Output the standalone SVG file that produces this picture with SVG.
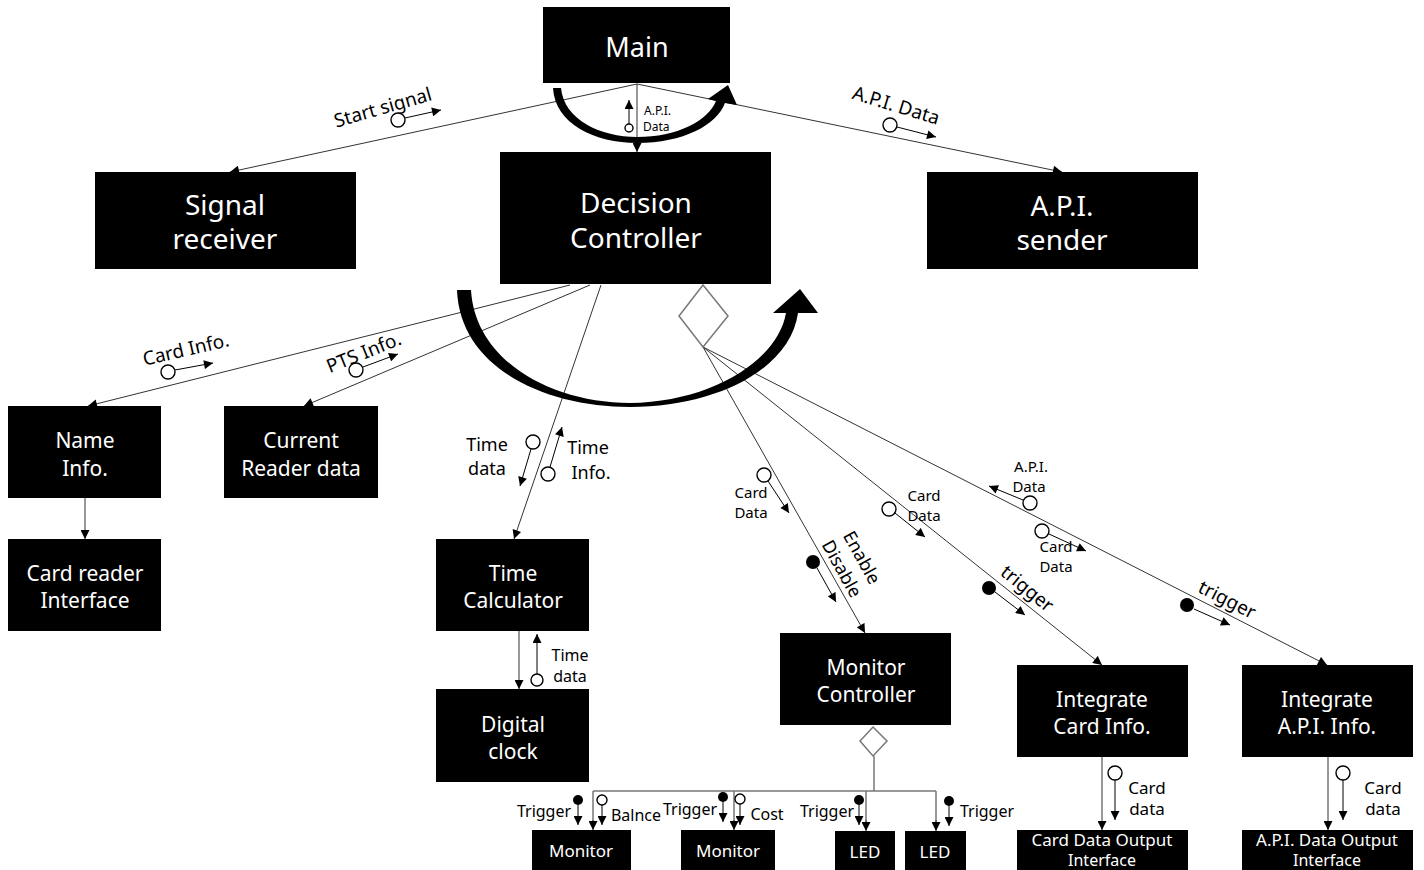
<svg xmlns="http://www.w3.org/2000/svg" width="1424" height="870" viewBox="0 0 1424 870">
<style>
.box{fill:#000}
.t{fill:#fff;font-family:"Noto Sans","Open Sans",sans-serif;text-anchor:middle}
.lb{fill:#000;font-family:"Noto Sans","Open Sans",sans-serif;text-anchor:middle}
.c{stroke:#333;stroke-width:1;fill:none}
.g{stroke:#777;stroke-width:1.5;fill:none}
.s{stroke:#000;stroke-width:1;fill:none}
.oc{fill:#fff;stroke:#000;stroke-width:1.4}
.fc{fill:#000}
</style>
<defs>
<marker id="a" viewBox="0 0 10 10" refX="10" refY="5" markerWidth="10" markerHeight="9" markerUnits="userSpaceOnUse" orient="auto"><path d="M0,0 L10,5 L0,10 z" fill="#000"/></marker>
</defs>
<rect width="1424" height="870" fill="#fff"/>

<g id="connectors">
<line class="c" x1="637" y1="84" x2="230" y2="172" marker-end="url(#a)"/>
<line class="c" x1="637" y1="84" x2="1062" y2="172" marker-end="url(#a)"/>
<line class="c" x1="637" y1="84" x2="637" y2="152" marker-end="url(#a)"/>
<line class="c" x1="570" y1="285" x2="88" y2="406" marker-end="url(#a)"/>
<line class="c" x1="590" y1="285" x2="304" y2="406" marker-end="url(#a)"/>
<line class="c" x1="601" y1="285" x2="514" y2="539" marker-end="url(#a)"/>
<line class="c" x1="703" y1="347" x2="865" y2="633" marker-end="url(#a)"/>
<line class="c" x1="703" y1="347" x2="1102" y2="665" marker-end="url(#a)"/>
<line class="c" x1="703" y1="347" x2="1327" y2="665" marker-end="url(#a)"/>
<line class="c" x1="85" y1="498" x2="85" y2="539" marker-end="url(#a)"/>
<line class="c" x1="519" y1="631" x2="519" y2="689" marker-end="url(#a)"/>
<line class="c" x1="1102" y1="757" x2="1102" y2="830" marker-end="url(#a)"/>
<line class="c" x1="1328" y1="757" x2="1328" y2="830" marker-end="url(#a)"/>
<polygon class="g" points="703,285 728,316 703,347 679,316" style="fill:#fff"/>
<polygon class="g" points="873,727 887,741 873,756 860,741" style="fill:#fff"/>
<polyline class="g" points="874,756 874,791"/>
<line class="g" x1="593" y1="791" x2="936" y2="791"/>
<line class="g" x1="593" y1="791" x2="593" y2="822"/>
<line class="g" x1="734" y1="791" x2="734" y2="822"/>
<line class="g" x1="866" y1="791" x2="866" y2="822"/>
<line class="g" x1="936" y1="791" x2="936" y2="822"/>
<line class="c" x1="593" y1="820" x2="593" y2="830" marker-end="url(#a)"/>
<line class="c" x1="734" y1="820" x2="734" y2="830" marker-end="url(#a)"/>
<line class="c" x1="866" y1="820" x2="866" y2="831" marker-end="url(#a)"/>
<line class="c" x1="936" y1="820" x2="936" y2="831" marker-end="url(#a)"/>
<!-- curved arrows -->
<path class="fc" d="M 553 88 C 555 124, 595 143, 637 143 C 683 143, 717 125, 725 103 L 737 105 L 728 85 L 708 99 L 716 101 C 708 121, 677 137, 637 137 C 601 137, 564 120, 561 88 Z"/>
<path class="fc" d="M 457 290 C 460 368, 545 407, 630 407 C 715 407, 790 370, 798 313 L 818 313 L 800 289 L 773 313 L 786 313 C 778 360, 712 402, 630 403 C 550 403, 475 360, 471 290 Z"/>
</g>

<g id="labels">
<!-- Main A.P.I. Data -->
<circle class="oc" cx="629" cy="128" r="4"/>
<line class="s" x1="629" y1="124" x2="629" y2="100" marker-end="url(#a)"/>
<text class="lb" x="644" y="115" font-size="12" style="text-anchor:start">A.P.I.</text>
<text class="lb" x="643" y="131" font-size="12" style="text-anchor:start">Data</text>
<!-- Start signal -->
<text class="lb" font-size="19" transform="translate(383,108) rotate(-16)" y="6">Start signal</text>
<circle class="oc" cx="398" cy="120" r="7"/>
<line class="s" x1="405" y1="118" x2="441" y2="110" marker-end="url(#a)"/>
<!-- A.P.I. Data right -->
<text class="lb" font-size="19" transform="translate(896,106) rotate(17)" y="6">A.P.I. Data</text>
<circle class="oc" cx="890" cy="125" r="7"/>
<line class="s" x1="897" y1="127" x2="936" y2="137" marker-end="url(#a)"/>
<!-- Card Info -->
<text class="lb" font-size="19" transform="translate(186,350) rotate(-13)" y="6">Card Info.</text>
<circle class="oc" cx="168" cy="372" r="7"/>
<line class="s" x1="175" y1="370" x2="213" y2="363" marker-end="url(#a)"/>
<!-- PTS Info -->
<text class="lb" font-size="19" transform="translate(364,353) rotate(-22)" y="6">PTS Info.</text>
<circle class="oc" cx="356" cy="370" r="7"/>
<line class="s" x1="363" y1="367" x2="398" y2="354" marker-end="url(#a)"/>
<!-- Time data / Time Info -->
<text class="lb" font-size="18" x="487" y="451">Time</text>
<text class="lb" font-size="18" x="487" y="475">data</text>
<circle class="oc" cx="533" cy="442" r="7"/>
<line class="s" x1="531" y1="449" x2="520" y2="486" marker-end="url(#a)"/>
<text class="lb" font-size="18" x="588" y="454">Time</text>
<text class="lb" font-size="18" x="591" y="479">Info.</text>
<circle class="oc" cx="548" cy="474" r="7"/>
<line class="s" x1="550" y1="467" x2="562" y2="427" marker-end="url(#a)"/>
<!-- Card Data near monitor -->
<text class="lb" font-size="15" x="751" y="498">Card</text>
<text class="lb" font-size="15" x="751" y="518">Data</text>
<circle class="oc" cx="764" cy="475" r="7"/>
<line class="s" x1="768" y1="481" x2="789" y2="513" marker-end="url(#a)"/>
<!-- Enable Disable -->
<circle class="fc" cx="813" cy="562" r="7"/>
<line class="s" x1="817" y1="568" x2="836" y2="602" marker-end="url(#a)"/>
<g transform="translate(852,563) rotate(61)">
<text class="lb" font-size="18" y="-5">Enable</text>
<text class="lb" font-size="18" y="18">Disable</text>
</g>
<!-- Card Data 2 -->
<text class="lb" font-size="15" x="924" y="501">Card</text>
<text class="lb" font-size="15" x="924" y="521">Data</text>
<circle class="oc" cx="889" cy="509" r="7"/>
<line class="s" x1="895" y1="513" x2="925" y2="537" marker-end="url(#a)"/>
<circle class="fc" cx="989" cy="588" r="7"/>
<line class="s" x1="995" y1="592" x2="1025" y2="615" marker-end="url(#a)"/>
<text class="lb" font-size="19" transform="translate(1027,589) rotate(39)" y="6">trigger</text>
<!-- A.P.I. Data on right line -->
<text class="lb" font-size="15" x="1031" y="472">A.P.I.</text>
<text class="lb" font-size="15" x="1029" y="492">Data</text>
<circle class="oc" cx="1030" cy="503" r="7"/>
<line class="s" x1="1023" y1="500" x2="989" y2="486" marker-end="url(#a)"/>
<!-- Card Data 3 -->
<text class="lb" font-size="15" x="1056" y="552">Card</text>
<text class="lb" font-size="15" x="1056" y="572">Data</text>
<circle class="oc" cx="1042" cy="531" r="7"/>
<line class="s" x1="1049" y1="534" x2="1086" y2="551" marker-end="url(#a)"/>
<circle class="fc" cx="1187" cy="605" r="7"/>
<line class="s" x1="1194" y1="609" x2="1230" y2="625" marker-end="url(#a)"/>
<text class="lb" font-size="19" transform="translate(1227,600) rotate(27)" y="6">trigger</text>
<!-- Time data digital clock -->
<text class="lb" font-size="16" x="570" y="661">Time</text>
<text class="lb" font-size="16" x="570" y="682">data</text>
<circle class="oc" cx="537" cy="680" r="6"/>
<line class="s" x1="537" y1="674" x2="537" y2="634" marker-end="url(#a)"/>
<!-- Card data bottom -->
<circle class="oc" cx="1115" cy="773" r="7"/>
<line class="s" x1="1115" y1="780" x2="1115" y2="820" marker-end="url(#a)"/>
<text class="lb" font-size="17" x="1147" y="794">Card</text>
<text class="lb" font-size="17" x="1147" y="815">data</text>
<circle class="oc" cx="1343" cy="773" r="7"/>
<line class="s" x1="1343" y1="780" x2="1343" y2="820" marker-end="url(#a)"/>
<text class="lb" font-size="17" x="1383" y="794">Card</text>
<text class="lb" font-size="17" x="1383" y="815">data</text>
<!-- bottom triggers -->
<text class="lb" font-size="16" x="544" y="817">Trigger</text>
<circle class="fc" cx="578" cy="800" r="5"/>
<line class="s" x1="578" y1="805" x2="578" y2="825" marker-end="url(#a)"/>
<circle class="oc" cx="602" cy="800" r="5"/>
<line class="s" x1="602" y1="805" x2="602" y2="825" marker-end="url(#a)"/>
<text class="lb" font-size="16" x="636" y="821">Balnce</text>
<text class="lb" font-size="16" x="690" y="815">Trigger</text>
<circle class="fc" cx="723" cy="797" r="5"/>
<line class="s" x1="723" y1="802" x2="723" y2="822" marker-end="url(#a)"/>
<circle class="oc" cx="740" cy="799" r="5"/>
<line class="s" x1="740" y1="804" x2="740" y2="825" marker-end="url(#a)"/>
<text class="lb" font-size="16" x="767" y="820">Cost</text>
<text class="lb" font-size="16" x="827" y="817">Trigger</text>
<circle class="fc" cx="859" cy="800" r="5"/>
<line class="s" x1="859" y1="805" x2="859" y2="825" marker-end="url(#a)"/>
<circle class="fc" cx="949" cy="801" r="5"/>
<line class="s" x1="949" y1="806" x2="949" y2="826" marker-end="url(#a)"/>
<text class="lb" font-size="16" x="987" y="817">Trigger</text>
</g>

<g id="main"><rect class="box" x="543" y="7" width="187" height="76"/><text class="t" x="637" y="57" font-size="27">Main</text></g>
<g id="decision"><rect class="box" x="500" y="152" width="271" height="132"/><text class="t" x="636" y="213" font-size="28">Decision</text><text class="t" x="636" y="248" font-size="28">Controller</text></g>
<g id="signal"><rect class="box" x="95" y="172" width="261" height="97"/><text class="t" x="225" y="215" font-size="28">Signal</text><text class="t" x="225" y="249" font-size="28">receiver</text></g>
<g id="apisender"><rect class="box" x="927" y="172" width="271" height="97"/><text class="t" x="1062" y="216" font-size="28">A.P.I.</text><text class="t" x="1062" y="250" font-size="28">sender</text></g>
<g id="nameinfo"><rect class="box" x="8" y="406" width="153" height="92"/><text class="t" x="85" y="448" font-size="21">Name</text><text class="t" x="85" y="476" font-size="21">Info.</text></g>
<g id="current"><rect class="box" x="224" y="406" width="154" height="92"/><text class="t" x="301" y="448" font-size="21">Current</text><text class="t" x="301" y="476" font-size="21">Reader data</text></g>
<g id="cardreader"><rect class="box" x="8" y="539" width="153" height="92"/><text class="t" x="85" y="581" font-size="21">Card reader</text><text class="t" x="85" y="608" font-size="21">Interface</text></g>
<g id="timecalc"><rect class="box" x="436" y="539" width="153" height="92"/><text class="t" x="513" y="581" font-size="21">Time</text><text class="t" x="513" y="608" font-size="21">Calculator</text></g>
<g id="digital"><rect class="box" x="436" y="689" width="153" height="93"/><text class="t" x="513" y="732" font-size="21">Digital</text><text class="t" x="513" y="759" font-size="21">clock</text></g>
<g id="monctrl"><rect class="box" x="780" y="633" width="171" height="92"/><text class="t" x="866" y="675" font-size="21">Monitor</text><text class="t" x="866" y="702" font-size="21">Controller</text></g>
<g id="intcard"><rect class="box" x="1017" y="665" width="171" height="92"/><text class="t" x="1102" y="707" font-size="21">Integrate</text><text class="t" x="1102" y="734" font-size="21">Card Info.</text></g>
<g id="intapi"><rect class="box" x="1242" y="665" width="171" height="92"/><text class="t" x="1327" y="707" font-size="21">Integrate</text><text class="t" x="1327" y="734" font-size="21">A.P.I. Info.</text></g>
<g id="monitor1"><rect class="box" x="532" y="830" width="99" height="40"/><text class="t" x="581" y="857" font-size="17">Monitor</text></g>
<g id="monitor2"><rect class="box" x="681" y="830" width="94" height="40"/><text class="t" x="728" y="857" font-size="17">Monitor</text></g>
<g id="led1"><rect class="box" x="835" y="831" width="60" height="39"/><text class="t" x="865" y="858" font-size="17">LED</text></g>
<g id="led2"><rect class="box" x="905" y="831" width="61" height="39"/><text class="t" x="935" y="858" font-size="17">LED</text></g>
<g id="cardout"><rect class="box" x="1017" y="830" width="171" height="40"/><text class="t" x="1102" y="846" font-size="17">Card Data Output</text><text class="t" x="1102" y="866" font-size="16">Interface</text></g>
<g id="apiout"><rect class="box" x="1242" y="830" width="171" height="40"/><text class="t" x="1327" y="846" font-size="17">A.P.I. Data Output</text><text class="t" x="1327" y="866" font-size="16">Interface</text></g>
</svg>
